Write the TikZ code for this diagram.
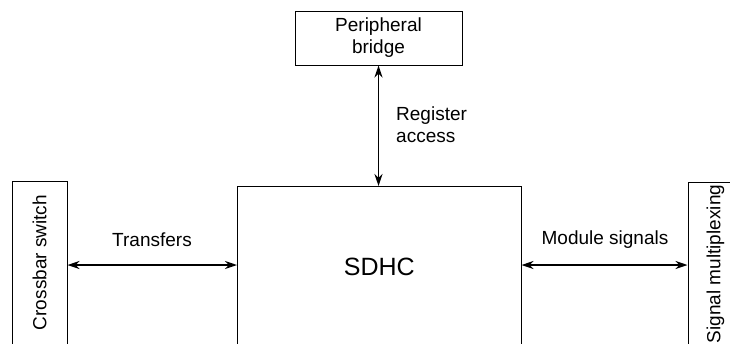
\documentclass[tikz,border=0pt]{standalone}
\usepackage{fontspec}
\setmainfont{Liberation Sans}
\usetikzlibrary{arrows.meta}
\tikzset{
  blk/.style={draw=black, line width=1pt, inner sep=0pt, font=\fontsize{19}{22}\selectfont, align=center},
  lbl/.style={inner sep=0pt, font=\fontsize{19}{22}\selectfont, align=left},
  biarrow/.style={line width=1.5pt, {Stealth[length=12pt,width=8pt,inset=4pt]}-{Stealth[length=12pt,width=8pt,inset=4pt]}}
}
\begin{document}
\begin{tikzpicture}[x=1pt,y=-1pt]
\useasboundingbox (0,0) rectangle (730,343);
\clip (0,0) rectangle (730,343);
\node[blk, minimum width=167, minimum height=54] (periph) at (378.5,38) {Peripheral\\bridge};
\node[blk, minimum width=283.5, minimum height=160, font=\fontsize{25}{30}\selectfont] (sdhc) at (379.25,266.5) {SDHC};
\node[blk, rotate=90, minimum width=163, minimum height=55] (xbar) at (39.5,262.5) {Crossbar switch};
\node[blk, rotate=90, minimum width=164, minimum height=55] (smux) at (715.5,264) {Signal multiplexing};
\coordinate (lv) at (0,265);
\draw[biarrow] (periph.south) -- (periph.south |- sdhc.north);
\draw[biarrow] (xbar.south |- lv) -- (sdhc.west |- lv);
\draw[biarrow] (sdhc.east |- lv) -- (smux.north |- lv);
\node[lbl] (transfers) at (152,240) {Transfers};
\node[lbl] (modsig) at (605,240) {Module signals};
\node[lbl, anchor=west] (regacc) at (396,125) {Register\\access};
\end{tikzpicture}
\end{document}
